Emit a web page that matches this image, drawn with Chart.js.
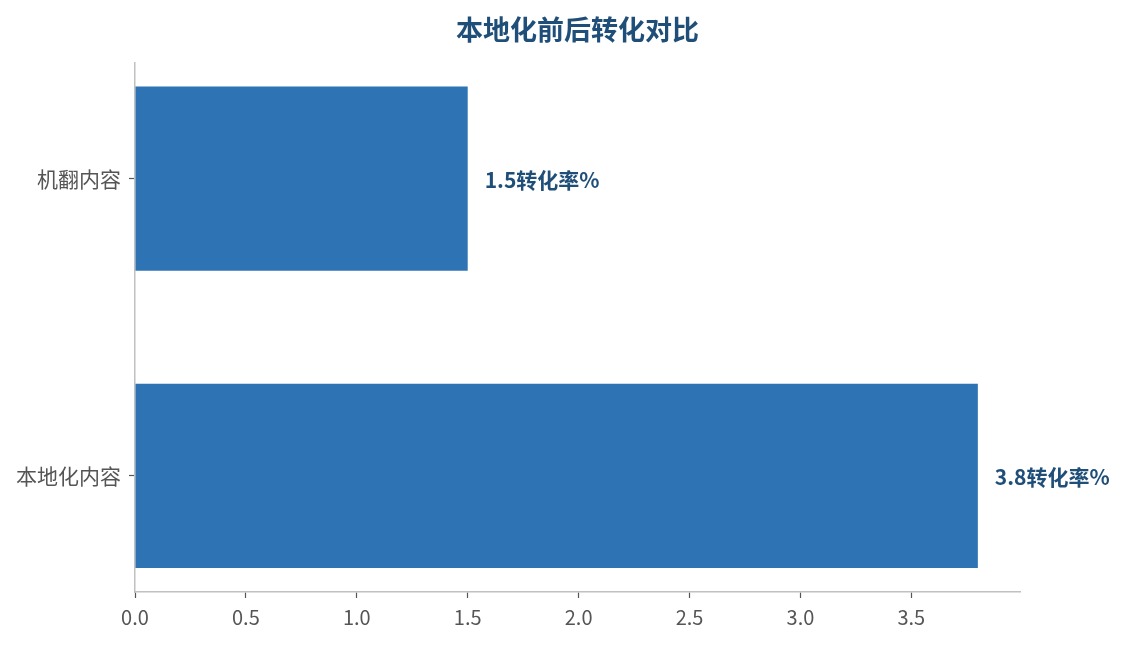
<!DOCTYPE html>
<html>
<head>
<meta charset="utf-8">
<script src="https://cdn.jsdelivr.net/npm/chart.js@4"></script>
<style>
html,body{margin:0;padding:0;background:#fff;}
#wrap{width:1124px;height:645px;position:relative;}
</style>
</head>
<body>
<div id="wrap"><canvas id="c" width="1124" height="645"></canvas></div>
<script>
const categories = ['本地化内容', '机翻内容'];
const values = [3.8, 1.5];
const labelSuffix = '转化率%';
const xTicks = [0, 0.5, 1.0, 1.5, 2.0, 2.5, 3.0, 3.5];
const titleText = '本地化前后转化对比';

const FONT = "'Noto Sans CJK SC', 'Noto Sans', sans-serif";

const bgPlugin = {
  id: 'bg',
  beforeDraw(chart) {
    const ctx = chart.ctx;
    ctx.save();
    ctx.fillStyle = '#ffffff';
    ctx.fillRect(0, 0, chart.width, chart.height);
    ctx.restore();
  }
};

// center the title over the plot area (as in the reference)
const titleCenterPlugin = {
  id: 'titleCenter',
  afterLayout(chart) {
    const tb = chart.titleBlock;
    if (tb) {
      tb.left = chart.chartArea.left;
      tb.right = chart.chartArea.right;
      tb.width = tb.right - tb.left;
    }
  }
};

const barLabelPlugin = {
  id: 'barLabels',
  afterDatasetsDraw(chart) {
    const ctx = chart.ctx;
    const meta = chart.getDatasetMeta(0);
    ctx.save();
    ctx.font = 'bold 21px ' + FONT;
    ctx.fillStyle = '#1f4e79';
    ctx.textAlign = 'left';
    ctx.textBaseline = 'middle';
    meta.data.forEach((bar, i) => {
      const v = chart.data.datasets[0].data[i].x;
      ctx.fillText(v.toFixed(1) + labelSuffix, bar.x + 17, bar.y + 1);
    });
    ctx.restore();
  }
};

new Chart(document.getElementById('c'), {
  type: 'bar',
  data: {
    datasets: [{
      data: values.map((v, i) => ({ x: v, y: i })),
      backgroundColor: '#2e74b5',
      borderWidth: 0,
      categoryPercentage: 1,
      barPercentage: 0.62
    }]
  },
  options: {
    indexAxis: 'y',
    responsive: false,
    animation: false,
    devicePixelRatio: 1,
    layout: { padding: { left: 0, right: 104, top: 0, bottom: 0 } },
    plugins: {
      legend: { display: false },
      tooltip: { enabled: false },
      title: {
        display: true,
        text: titleText,
        color: '#1f4e79',
        font: { family: FONT, size: 27, weight: 'bold', lineHeight: 1.2 },
        padding: { top: 14, bottom: 16 }
      }
    },
    scales: {
      x: {
        type: 'linear',
        min: 0,
        max: 3.99,
        afterBuildTicks: (s) => { s.ticks = xTicks.map(v => ({ value: v })); },
        afterFit: (s) => { s.height = 53; },
        ticks: {
          color: '#555555',
          padding: 7,
          font: { family: FONT, size: 20 },
          callback: (v) => Number(v).toFixed(1)
        },
        grid: { drawOnChartArea: false, tickLength: 6, tickColor: '#555555', tickWidth: 1.2 },
        border: { display: true, color: '#c0c0c0', width: 1.5 }
      },
      y: {
        type: 'linear',
        offset: false,
        min: -0.391,
        max: 1.391,
        afterBuildTicks: (s) => { s.ticks = categories.map((c, i) => ({ value: i })); },
        afterFit: (s) => { s.width = 135; },
        ticks: {
          color: '#555555',
          padding: 8,
          font: { family: FONT, size: 21 },
          callback: (v) => categories[v]
        },
        grid: { offset: false, drawOnChartArea: false, tickLength: 6, tickColor: '#555555', tickWidth: 1.2 },
        border: { display: true, color: '#c0c0c0', width: 1.5 }
      }
    }
  },
  plugins: [bgPlugin, titleCenterPlugin, barLabelPlugin]
});
</script>
</body>
</html>
